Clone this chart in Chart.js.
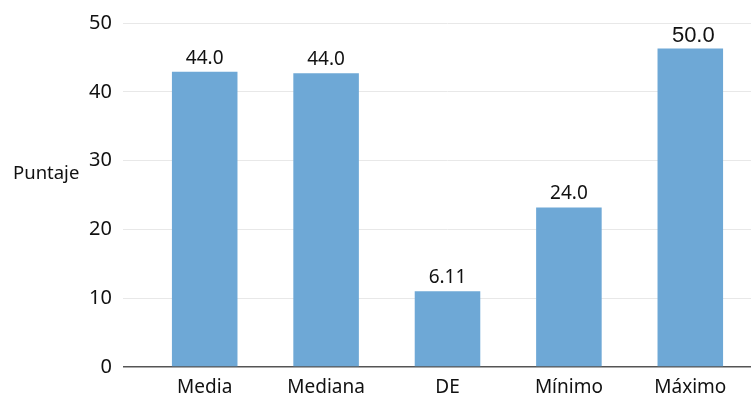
<!DOCTYPE html>
<html>
<head>
<meta charset="utf-8">
<script src="https://cdn.jsdelivr.net/npm/chart.js@4"></script>
<style>
  body { margin: 0; background: #fff; }
  #wrap { width: 751px; height: 401px; }
</style>
</head>
<body>
<div id="wrap"><canvas id="grafico"></canvas></div>
<script>
// datos del grafico
const categorias = ['Media', 'Mediana', 'DE', 'Mínimo', 'Máximo'];
const valores = [42.9, 42.7, 11.0, 23.2, 46.3];      // altura de las barras tal como se ven
const etiquetas = ['44.0', '44.0', '6.11', '24.0', '50.0']; // texto encima de cada barra
const marcasY = [0, 10, 20, 30, 40, 50];

const fuente = "'Noto Sans', 'Open Sans', sans-serif";

// etiquetas encima de las barras + titulo "Puntaje"
const textoBarras = {
  id: 'textoBarras',
  afterDatasetsDraw(chart) {
    const ctx = chart.ctx;
    const meta = chart.getDatasetMeta(0);
    ctx.save();
    ctx.fillStyle = '#111';
    ctx.textAlign = 'center';
    ctx.textBaseline = 'alphabetic';
    meta.data.forEach(function (barra, i) {
      if (i === etiquetas.length - 1) {
        ctx.font = "22px 'Liberation Sans', Arial, sans-serif";
        ctx.fillText(etiquetas[i], barra.x + 3, barra.y - 6);
      } else {
        ctx.font = '19px ' + fuente;
        ctx.fillText(etiquetas[i], barra.x, barra.y - 8);
      }
    });
    // titulo del eje
    const y = chart.scales.y.getPixelForValue(28.1);
    ctx.font = '18.5px ' + fuente;
    ctx.textAlign = 'left';
    ctx.textBaseline = 'middle';
    ctx.fillText('Puntaje', 13, y);
    ctx.restore();
  }
};

new Chart(document.getElementById('grafico'), {
  type: 'bar',
  data: {
    labels: categorias,
    datasets: [{
      data: valores,
      backgroundColor: '#6ea8d6',
      barPercentage: 0.54,
      categoryPercentage: 1
    }]
  },
  options: {
    responsive: true,
    maintainAspectRatio: false,
    animation: false,
    layout: { padding: { top: 22, right: 0, left: 0, bottom: 0 } },
    plugins: {
      legend: { display: false },
      tooltip: { enabled: false }
    },
    scales: {
      x: {
        grid: { display: false, drawTicks: false },
        border: { display: false },
        ticks: { color: '#111', font: { family: fuente, size: 19 }, padding: 9 },
        afterFit: function (eje) { eje.height = 34; }
      },
      y: {
        min: 0,
        max: 50,
        afterBuildTicks: function (eje) { eje.ticks = marcasY.map(v => ({ value: v })); },
        grid: {
          color: c => (c.tick && c.tick.value === 0) ? '#555' : '#e8e8e8',
          lineWidth: c => (c.tick && c.tick.value === 0) ? 1.5 : 1,
          tickLength: 21
        },
        border: { display: false },
        ticks: { color: '#111', font: { family: fuente, size: 20 }, padding: 11 },
        afterFit: function (eje) { eje.width = 144; }
      }
    }
  },
  plugins: [textoBarras]
});
</script>
</body>
</html>
